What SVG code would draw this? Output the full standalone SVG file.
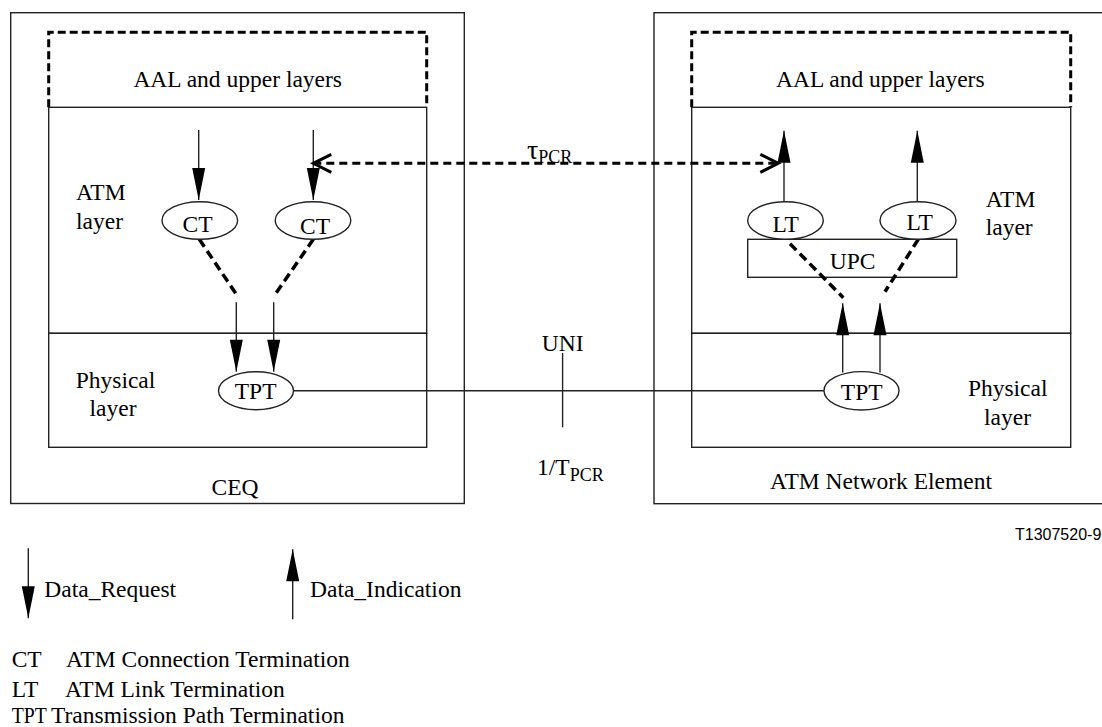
<svg xmlns="http://www.w3.org/2000/svg" width="1102" height="727" viewBox="0 0 1102 727">
<style>
text{font-family:"Liberation Serif","Times New Roman",serif;font-size:23.5px;fill:#000}
.c{text-anchor:middle}
.box{fill:none;stroke:#222;stroke-width:1.4}
.dbox{fill:none;stroke:#000;stroke-width:3;stroke-dasharray:8,4}
.node{fill:#fff;stroke:#222;stroke-width:1.4}
.ln{fill:none;stroke:#222;stroke-width:1.4}
.arr{fill:none;stroke:#222;stroke-width:1.4;marker-end:url(#ah)}
.dl{fill:none;stroke:#000;stroke-width:3.5;stroke-dasharray:9,5}
.tau{fill:none;stroke:#000;stroke-width:3;stroke-dasharray:8,5;marker-start:url(#oa);marker-end:url(#oa)}
.sub{font-size:18px}
.id{font-family:"Liberation Sans",Arial,sans-serif;font-size:16px}
</style>
<defs>
<marker id="ah" markerUnits="userSpaceOnUse" markerWidth="32" markerHeight="14" refX="32" refY="6.5" orient="auto" overflow="visible">
<path d="M0,0 L32,6.5 L0,13 z" fill="#000"/>
</marker>
<marker id="oa" markerUnits="userSpaceOnUse" markerWidth="20" markerHeight="20" refX="18" refY="9" orient="auto-start-reverse" overflow="visible">
<path d="M0,0 L18,9 L0,18" fill="none" stroke="#000" stroke-width="3"/>
</marker>
</defs>

<g id="ceq">
<rect class="box" x="10.7" y="12.7" width="453.6" height="490.8"/>
<text class="c" x="235" y="495">CEQ</text>
</g>
<g id="ne">
<rect class="box" x="654" y="12.7" width="470" height="491"/>
<text class="c" x="881" y="489.3">ATM Network Element</text>
</g>

<g id="aal-left">
<path class="dbox" d="M48.7,107.3 V32.3 H426.7 V107.3"/>
<text class="c" x="237.7" y="87.3">AAL and upper layers</text>
</g>
<g id="atm-left">
<rect class="box" x="48.7" y="107.3" width="378" height="226"/>
<text x="76" y="200">ATM</text>
<text x="76" y="229">layer</text>
</g>
<g id="phy-left">
<rect class="box" x="48.7" y="333.3" width="378" height="114"/>
<text class="c" x="115.5" y="387.5">Physical</text>
<text class="c" x="113" y="416">layer</text>
</g>

<g id="aal-right">
<path class="dbox" d="M691.7,107.3 V32.3 H1070.7 V107.3"/>
<text class="c" x="880.3" y="87.3">AAL and upper layers</text>
</g>
<g id="atm-right">
<rect class="box" x="691.7" y="107.3" width="379" height="226"/>
<text x="985.7" y="206.7">ATM</text>
<text x="985.7" y="234.5">layer</text>
</g>
<g id="phy-right">
<rect class="box" x="691.7" y="333.3" width="379" height="114"/>
<text class="c" x="1007.7" y="396">Physical</text>
<text class="c" x="1007.5" y="424.5">layer</text>
</g>

<g id="upc">
<rect class="box" x="747.7" y="239.3" width="209" height="38"/>
<text class="c" x="852.7" y="269.3">UPC</text>
</g>

<g id="connectors">
<path class="arr" d="M198.7,130 V200"/>
<path class="arr" d="M313.3,130 V200"/>
<path class="dl" d="M199.3,239.3 L237.3,295.7"/>
<path class="dl" d="M313.3,239.3 L274.3,295.7"/>
<path class="arr" d="M236.3,302.3 V371.7"/>
<path class="arr" d="M273.7,302.3 V371.7"/>
<path class="ln" d="M293.5,390.7 H824"/>
<path class="ln" d="M562.6,353 V427.3"/>
<path class="arr" d="M842.7,372.5 V303.3"/>
<path class="arr" d="M880,372.5 V303.3"/>
<path class="dl" d="M790,243.7 L843.3,297.7"/>
<path class="dl" d="M918.3,239.3 L885,291.7"/>
<path class="arr" d="M784,201.7 V130.7"/>
<path class="arr" d="M917.3,201.7 V130.7"/>
<path class="tau" d="M313.3,163.3 H778.3"/>
<path class="arr" d="M28.3,548.3 V618.3"/>
<path class="arr" d="M292.7,619.3 V549.3"/>
</g>

<g id="ct1"><ellipse class="node" cx="199.8" cy="220.5" rx="37.8" ry="18.8"/><text class="c" x="197.5" y="232">CT</text></g>
<g id="ct2"><ellipse class="node" cx="313" cy="220.5" rx="37.8" ry="18.8"/><text class="c" x="315" y="234">CT</text></g>
<g id="lt1"><ellipse class="node" cx="785.5" cy="220.5" rx="37.8" ry="18.8"/><text class="c" x="785.7" y="232.3">LT</text></g>
<g id="lt2"><ellipse class="node" cx="918" cy="220.5" rx="38" ry="18.8"/><text class="c" x="919.7" y="230">LT</text></g>
<g id="tpt-left"><ellipse class="node" cx="256" cy="390.7" rx="37.5" ry="19"/><text class="c" x="255.6" y="399.3">TPT</text></g>
<g id="tpt-right"><ellipse class="node" cx="861.5" cy="390.8" rx="37.5" ry="19.2"/><text class="c" x="861.7" y="400">TPT</text></g>

<g id="labels">
<text x="527" y="158.5"><tspan style="font-size:28px">τ</tspan><tspan class="sub" dy="4">PCR</tspan></text>
<text class="c" x="562.6" y="350.7">UNI</text>
<text x="537" y="475">1/T<tspan class="sub" dy="6">PCR</tspan></text>
<text class="id" x="1015" y="540">T1307520-96</text>
</g>

<g id="legend">
<text x="44.3" y="596.7">Data_Request</text>
<text x="310" y="597">Data_Indication</text>
<text x="11.7" y="666.7">CT</text>
<text x="66" y="666.7">ATM Connection Termination</text>
<text x="11.7" y="696.7">LT</text>
<text x="65" y="696.7">ATM Link Termination</text>
<text x="11.7" y="723.3" textLength="35" lengthAdjust="spacingAndGlyphs">TPT</text>
<text x="51" y="723.3">Transmission Path Termination</text>
</g>
</svg>
